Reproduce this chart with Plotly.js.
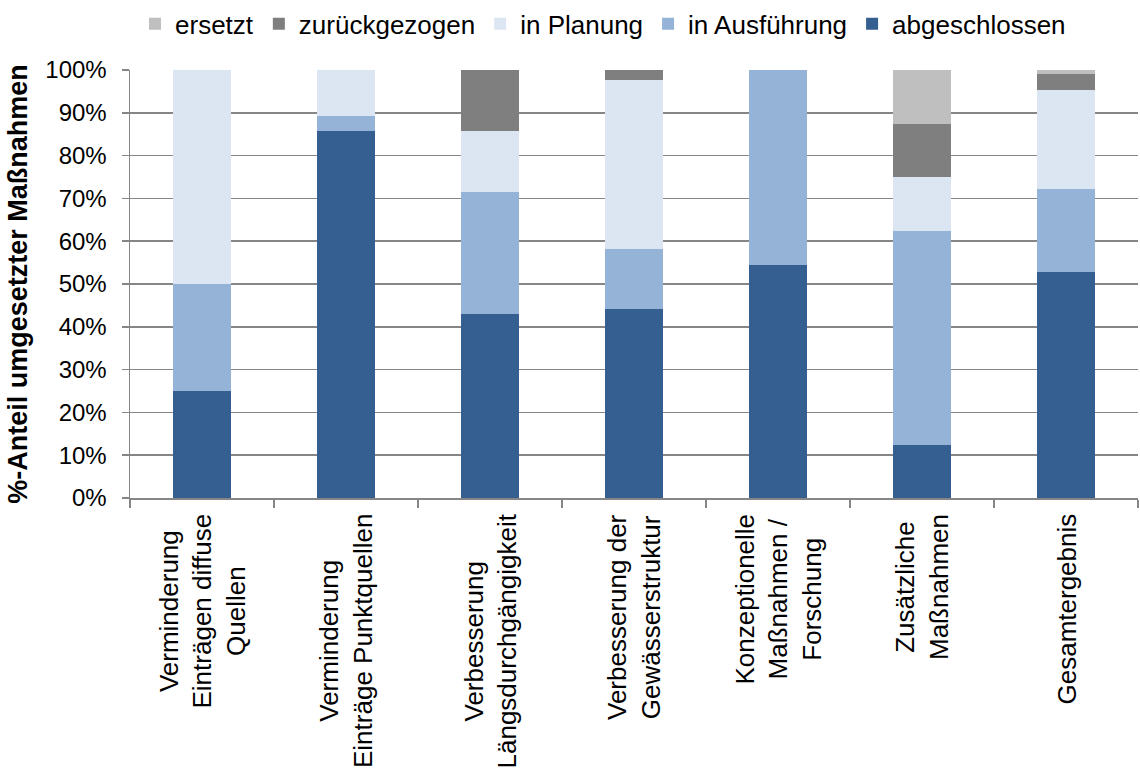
<!DOCTYPE html>
<html>
<head>
<meta charset="utf-8">
<script src="https://cdn.plot.ly/plotly-3.0.1.min.js"></script>
<style>html,body{margin:0;padding:0;background:#fff;}#chart{width:1140px;height:774px;}</style>
</head>
<body>
<div id="chart"></div>
<script>
var categories = [
  "Verminderung<br>Einträgen diffuse<br>Quellen",
  "Verminderung<br>Einträge Punktquellen",
  "Verbesserung<br>Längsdurchgängigkeit",
  "Verbesserung der<br>Gewässerstruktur",
  "Konzeptionelle<br>Maßnahmen /<br>Forschung",
  "Zusätzliche<br>Maßnahmen",
  "Gesamtergebnis"
];
var abgeschlossen   = [25.0, 85.7, 42.9, 44.2, 54.5, 12.5, 52.8];
var inAusfuehrung   = [25.0,  3.6, 28.6, 14.0, 45.5, 50.0, 19.4];
var inPlanung       = [50.0, 10.7, 14.3, 39.5,  0.0, 12.5, 23.2];
var zurueckgezogen  = [ 0.0,  0.0, 14.3,  2.3,  0.0, 12.5,  3.7];
var ersetzt         = [ 0.0,  0.0,  0.0,  0.0,  0.0, 12.5,  0.9];
var seriesNames = ["abgeschlossen", "in Ausführung", "in Planung", "zurückgezogen", "ersetzt"];
var yTickVals = [0, 10, 20, 30, 40, 50, 60, 70, 80, 90, 100];
var yTickText = ["0%", "10%", "20%", "30%", "40%", "50%", "60%", "70%", "80%", "90%", "100%"];

var colors = ["#355F91", "#95B3D7", "#DCE6F2", "#7F7F7F", "#BFBFBF"];
var seriesData = [abgeschlossen, inAusfuehrung, inPlanung, zurueckgezogen, ersetzt];
var font = "Liberation Sans, Arial, sans-serif";

var traces = seriesData.map(function (vals, i) {
  return {
    type: "bar",
    name: seriesNames[i],
    x: categories,
    y: vals,
    marker: { color: colors[i], line: { width: 0 } },
    hoverinfo: "skip"
  };
});

var annotations = categories.map(function (c) {
  return {
    x: c, xref: "x", y: 0, yref: "paper",
    yanchor: "top", xanchor: "center", yshift: -14,
    text: c, textangle: -90, align: "center", showarrow: false,
    font: { family: font, size: 26, color: "#000" }
  };
});

var layout = {
  width: 1140, height: 774,
  margin: { l: 129.5, r: 2, t: 69, b: 276 },
  paper_bgcolor: "#fff", plot_bgcolor: "#fff",
  barmode: "stack",
  bargap: 0.6,
  showlegend: true,
  legend: {
    orientation: "h", traceorder: "reversed",
    x: 0.005, xanchor: "left", y: 1.16, yanchor: "top",
    font: { family: font, size: 26, color: "#000" },
    itemwidth: 30, bgcolor: "rgba(0,0,0,0)"
  },
  xaxis: {
    type: "category",
    showticklabels: false,
    tickson: "boundaries",
    ticks: "outside", ticklen: 8, tickwidth: 1.5, tickcolor: "#868686",
    showline: true, linecolor: "#868686", linewidth: 1.5,
    showgrid: false, zeroline: false, fixedrange: true
  },
  yaxis: {
    range: [0, 100],
    tickmode: "array",
    tickvals: yTickVals,
    ticktext: yTickText,
    ticks: "outside", ticklen: 7, tickwidth: 1.5, tickcolor: "#868686",
    ticklabelstandoff: 10,
    showline: true, linecolor: "#868686", linewidth: 1.5,
    showgrid: true, gridcolor: "#868686", gridwidth: 1.5,
    zeroline: false,
    tickfont: { family: font, size: 24, color: "#000" },
    title: { text: "%-Anteil umgesetzter Maßnahmen", font: { family: font, size: 27, color: "#000", weight: "bold" }, standoff: 10 },
    automargin: false, fixedrange: true
  },
  annotations: annotations
};

Plotly.newPlot("chart", traces, layout, { displayModeBar: false, staticPlot: true });
</script>
</body>
</html>
